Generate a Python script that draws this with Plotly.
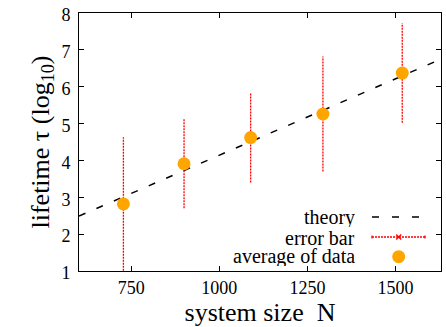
import plotly.graph_objects as go

# ---- data ----
sizes_N = [728, 900, 1089, 1294, 1519]
avg_log_tau = [2.82, 3.91, 4.62, 5.26, 6.37]
err_log_tau = [1.81, 1.21, 1.22, 1.56, 1.35]

theory_N = [602, 1629]
theory_log_tau = [2.49, 6.75]

x_ticks = [750, 1000, 1250, 1500]
y_ticks = [1, 2, 3, 4, 5, 6, 7, 8]
legend_labels = ["theory", "error bar", "average of data"]

FONT = "Liberation Serif"

# error bars as dotted line segments built from the data
ex, ey = [], []
for n, m, e in zip(sizes_N, avg_log_tau, err_log_tau):
    ex += [n, n, None]
    ey += [m - e, m + e, None]

fig = go.Figure()
fig.add_trace(go.Scatter(x=theory_N, y=theory_log_tau, mode="lines",
                         line=dict(color="black", width=1.5, dash="7px,12px"),
                         showlegend=False, hoverinfo="skip"))
fig.add_trace(go.Scatter(x=ex, y=ey, mode="lines",
                         line=dict(color="red", width=1.3, dash="2px,1px"),
                         showlegend=False, hoverinfo="skip"))
fig.add_trace(go.Scatter(x=sizes_N, y=avg_log_tau, mode="markers",
                         marker=dict(color="#FFA500", size=13),
                         showlegend=False))

W, H = 446, 327
L, R, T, B = 79, 5, 13, 56
pw, ph = W - L - R, H - T - B

def px(x):  # page pixel -> paper
    return (x - L) / pw

def py(y):
    return 1 - (y - T) / ph

shapes = []
annotations = []
rows_y = [217, 237, 256.7]
text_right = 357
s0, s1 = 372, 425
for lab, yy in zip(legend_labels, rows_y):
    annotations.append(dict(x=px(text_right), y=py(yy), xref="paper", yref="paper",
                            text=lab, showarrow=False, xanchor="right", yanchor="middle",
                            height=19, valign="middle",
                            font=dict(family=FONT, size=20, color="black")))
# theory sample
shapes.append(dict(type="line", xref="paper", yref="paper",
                   x0=px(s0), x1=px(421), y0=py(rows_y[0]), y1=py(rows_y[0]),
                   line=dict(color="black", width=1.5, dash="7px,13px")))
# error bar sample
shapes.append(dict(type="line", xref="paper", yref="paper",
                   x0=px(s0), x1=px(s1), y0=py(rows_y[1]), y1=py(rows_y[1]),
                   line=dict(color="red", width=1.3, dash="2px,1px")))
for xx in (s0, s1):
    shapes.append(dict(type="line", xref="paper", yref="paper",
                       x0=px(xx), x1=px(xx), y0=py(rows_y[1] - 1.5), y1=py(rows_y[1] + 1.5),
                       line=dict(color="red", width=1.3)))
cx = 398.7
for d in (1, -1):
    shapes.append(dict(type="line", xref="paper", yref="paper",
                       x0=px(cx - 2.5), x1=px(cx + 2.5),
                       y0=py(rows_y[1] - 2.5 * d), y1=py(rows_y[1] + 2.5 * d),
                       line=dict(color="red", width=1.3)))
# average sample
r = 6.5
shapes.append(dict(type="circle", xref="paper", yref="paper",
                   x0=px(cx - r), x1=px(cx + r), y0=py(rows_y[2] + r), y1=py(rows_y[2] - r),
                   fillcolor="#FFA500", line=dict(color="#FFA500", width=0)))

axis_common = dict(showgrid=False, zeroline=False, showline=True, linecolor="black",
                   linewidth=1, mirror="ticks", ticks="inside", ticklen=5,
                   tickcolor="black", tickwidth=1, ticklabeloverflow="allow",
                   tickfont=dict(family=FONT, size=18, color="black"))

fig.update_layout(
    width=W, height=H,
    margin=dict(l=L, r=R, t=T, b=B, autoexpand=False),
    paper_bgcolor="white", plot_bgcolor="white",
    shapes=shapes, annotations=annotations,
    xaxis=dict(range=[602, 1629], tickvals=x_ticks,
               title=dict(text="system size  N", font=dict(family=FONT, size=26, color="black"),
                          standoff=0),
               **axis_common),
    yaxis=dict(range=[1, 8], tickvals=y_ticks, ticklabelshift=2, ticklabelstandoff=4,
               title=dict(text="lifetime τ (log<sub>10</sub>)",
                          font=dict(family=FONT, size=26, color="black"), standoff=4),
               **axis_common),
)

fig.write_html("out.html", config={"displayModeBar": False},
               post_script="document.body.style.margin='0';")
